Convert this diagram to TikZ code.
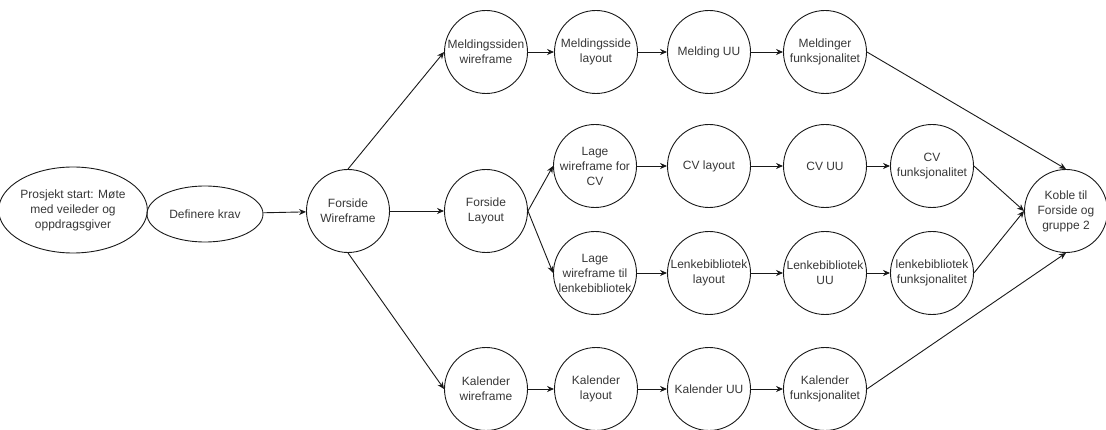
\documentclass[tikz,border=0pt]{standalone}
\usepackage{fontspec}
\setmainfont{Liberation Sans}
\usetikzlibrary{shapes.geometric,arrows.meta}

\begin{document}
\begin{tikzpicture}[x=1pt,y=-1pt]  %1 unit = 1 px of the sketch, y runs downwards
    \useasboundingbox (0,0) rectangle (1106,430);
    \definecolor{line-gr}{RGB}{25,25,25};   %lines and borders
    \definecolor{text-gr}{RGB}{55,55,55};   %label text
    \tikzset{task/.style={circle,draw=line-gr,line width=0.9pt,minimum size=83pt,inner sep=-5pt,align=center,text=text-gr,font=\fontsize{12}{15}\selectfont}};
    \tikzset{oval/.style={ellipse,draw=line-gr,line width=0.9pt,inner sep=0pt,align=center,text=text-gr,font=\fontsize{12}{15}\selectfont}};
    \tikzset{flow/.style={line-gr,line width=0.9pt,-{Stealth[length=7pt,width=6pt]}}};

    \def\ya{52};  \def\yb{166};  \def\ym{211};  \def\yc{273};  \def\yd{389};  %row heights
    \def\xa{486}; \def\xb{596}; \def\xc{709}; \def\xd{825}; \def\xe{932};    %column positions

    %start of the project
    \node[oval,minimum width=131pt,minimum height=86pt] (ps) at (73,210) {Prosjekt start: Møte\\med veileder og\\oppdragsgiver};
    \node[oval,minimum width=116pt,minimum height=56pt] (dk) at (205,214) {Definere krav};
    \node[task] (fw) at (348,\ym) {Forside\\Wireframe};
    \node[task] (fl) at (\xa,\ym) {Forside\\Layout};

    %meldinger
    \node[task] (mw) at (\xa,\ya) {Meldingssiden\\wireframe};
    \node[task] (ml) at (\xb,\ya) {Meldingsside\\layout};
    \node[task] (mu) at (\xc,\ya) {Melding UU};
    \node[task] (mf) at (\xd,\ya) {Meldinger\\funksjonalitet};

    %cv
    \node[task] (cw) at (595,\yb) {Lage\\wireframe for\\CV};
    \node[task] (cl) at (\xc,\yb) {CV layout};
    \node[task] (cu) at (\xd,\yb) {CV UU};
    \node[task] (cf) at (\xe,\yb) {CV\\funksjonalitet};

    %lenkebibliotek
    \node[task] (lw) at (595,\yc) {Lage\\wireframe til\\lenkebibliotek};
    \node[task] (ll) at (\xc,\yc) {Lenkebibliotek\\layout};
    \node[task] (lu) at (\xd,\yc) {Lenkebibliotek\\UU};
    \node[task] (lf) at (\xe,\yc) {lenkebibliotek\\funksjonalitet};

    %kalender
    \node[task] (kw) at (\xa,\yd) {Kalender\\wireframe};
    \node[task] (kl) at (\xb,\yd) {Kalender\\layout};
    \node[task] (ku) at (\xc,\yd) {Kalender UU};
    \node[task] (kf) at (\xd,\yd) {Kalender\\funksjonalitet};

    \node[task] (kb) at (1066,\ym) {Koble til\\Forside og\\gruppe 2};

    %arrows
    \draw[flow] (dk) -- (fw);
    \draw[flow] (fw) -- (fl);
    \draw[flow] (fw.north) -- (mw.west);
    \draw[flow] (fw.south) -- (kw.west);
    \draw[flow] (fl.east) -- (cw.west);
    \draw[flow] (fl.east) -- (lw.west);
    \foreach \a/\b in {mw/ml,ml/mu,mu/mf,cw/cl,cl/cu,cu/cf,lw/ll,ll/lu,lu/lf,kw/kl,kl/ku,ku/kf}
        \draw[flow] (\a) -- (\b);
    \draw[flow] (mf.east) -- (kb.north);
    \draw[flow] (cf.east) -- (kb.west);
    \draw[flow] (lf.east) -- (kb.west);
    \draw[flow] (kf.east) -- (kb.south);
\end{tikzpicture}
\end{document}
